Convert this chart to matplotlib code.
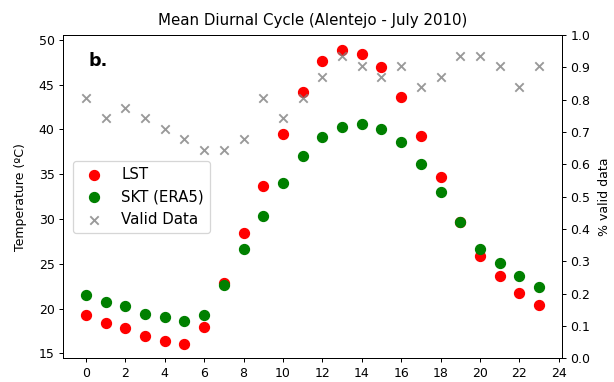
import matplotlib.pyplot as plt
import numpy as np

# hourly means for July 2010 over Alentejo
HOURS = np.arange(24)
LST = [19.3, 18.4, 17.8, 16.9, 16.4, 16.1, 17.9, 22.9, 28.4, 33.7, 39.5, 44.2,
       47.6, 48.9, 48.4, 47.0, 43.6, 39.3, 34.7, 29.7, 25.9, 23.6, 21.7, 20.4]
SKT = [21.5, 20.8, 20.3, 19.4, 19.1, 18.6, 19.3, 22.6, 26.7, 30.3, 34.0, 37.0,
       39.2, 40.3, 40.6, 40.1, 38.6, 36.1, 33.0, 29.7, 26.7, 25.1, 23.7, 22.4]
# number of valid days (out of 31) for each hour
VALID_DAYS = [25, 23, 24, 23, 22, 21, 20, 20, 21, 25, 23, 25,
              27, 29, 28, 27, 28, 26, 27, 29, 29, 28, 26, 28]
N_DAYS = 31
DPI = 90


def diurnal_plot(out='out.png'):
    fig = plt.figure(figsize=(614 / DPI, 382 / DPI), dpi=DPI)
    ax1 = fig.add_axes([0.1031, 0.0620, 0.8117, 0.8464])
    ax2 = ax1.twinx()

    h1 = ax1.scatter(HOURS, LST, s=64, color='red', label='LST')
    h2 = ax1.scatter(HOURS, SKT, s=64, color='green', label='SKT (ERA5)')
    valid = np.array(VALID_DAYS) / N_DAYS
    h3 = ax2.scatter(HOURS, valid, s=45, marker='x', color='gray',
                     alpha=0.8, label='Valid Data')

    ax1.set_xticks(np.arange(0, 25, 2))
    ax1.set_ylabel('Temperature (ºC)', labelpad=9)
    ax2.set_ylabel('% valid data', labelpad=6)
    ax2.set_ylim(0, 1)
    ax2.set_yticks(np.arange(0, 1.01, 0.1))
    ax1.set_title('Mean Diurnal Cycle (Alentejo - July 2010)', fontsize=12,
                  pad=8)
    ax1.text(0.05, 0.92, 'b.', transform=ax1.transAxes, fontsize=14,
             fontweight='bold', va='center')

    ax1.legend(handles=[h1, h2, h3], loc='center left', fontsize=12,
               bbox_to_anchor=(0.005, 0.5))
    fig.savefig(out, dpi=DPI)


if __name__ == '__main__':
    diurnal_plot()
